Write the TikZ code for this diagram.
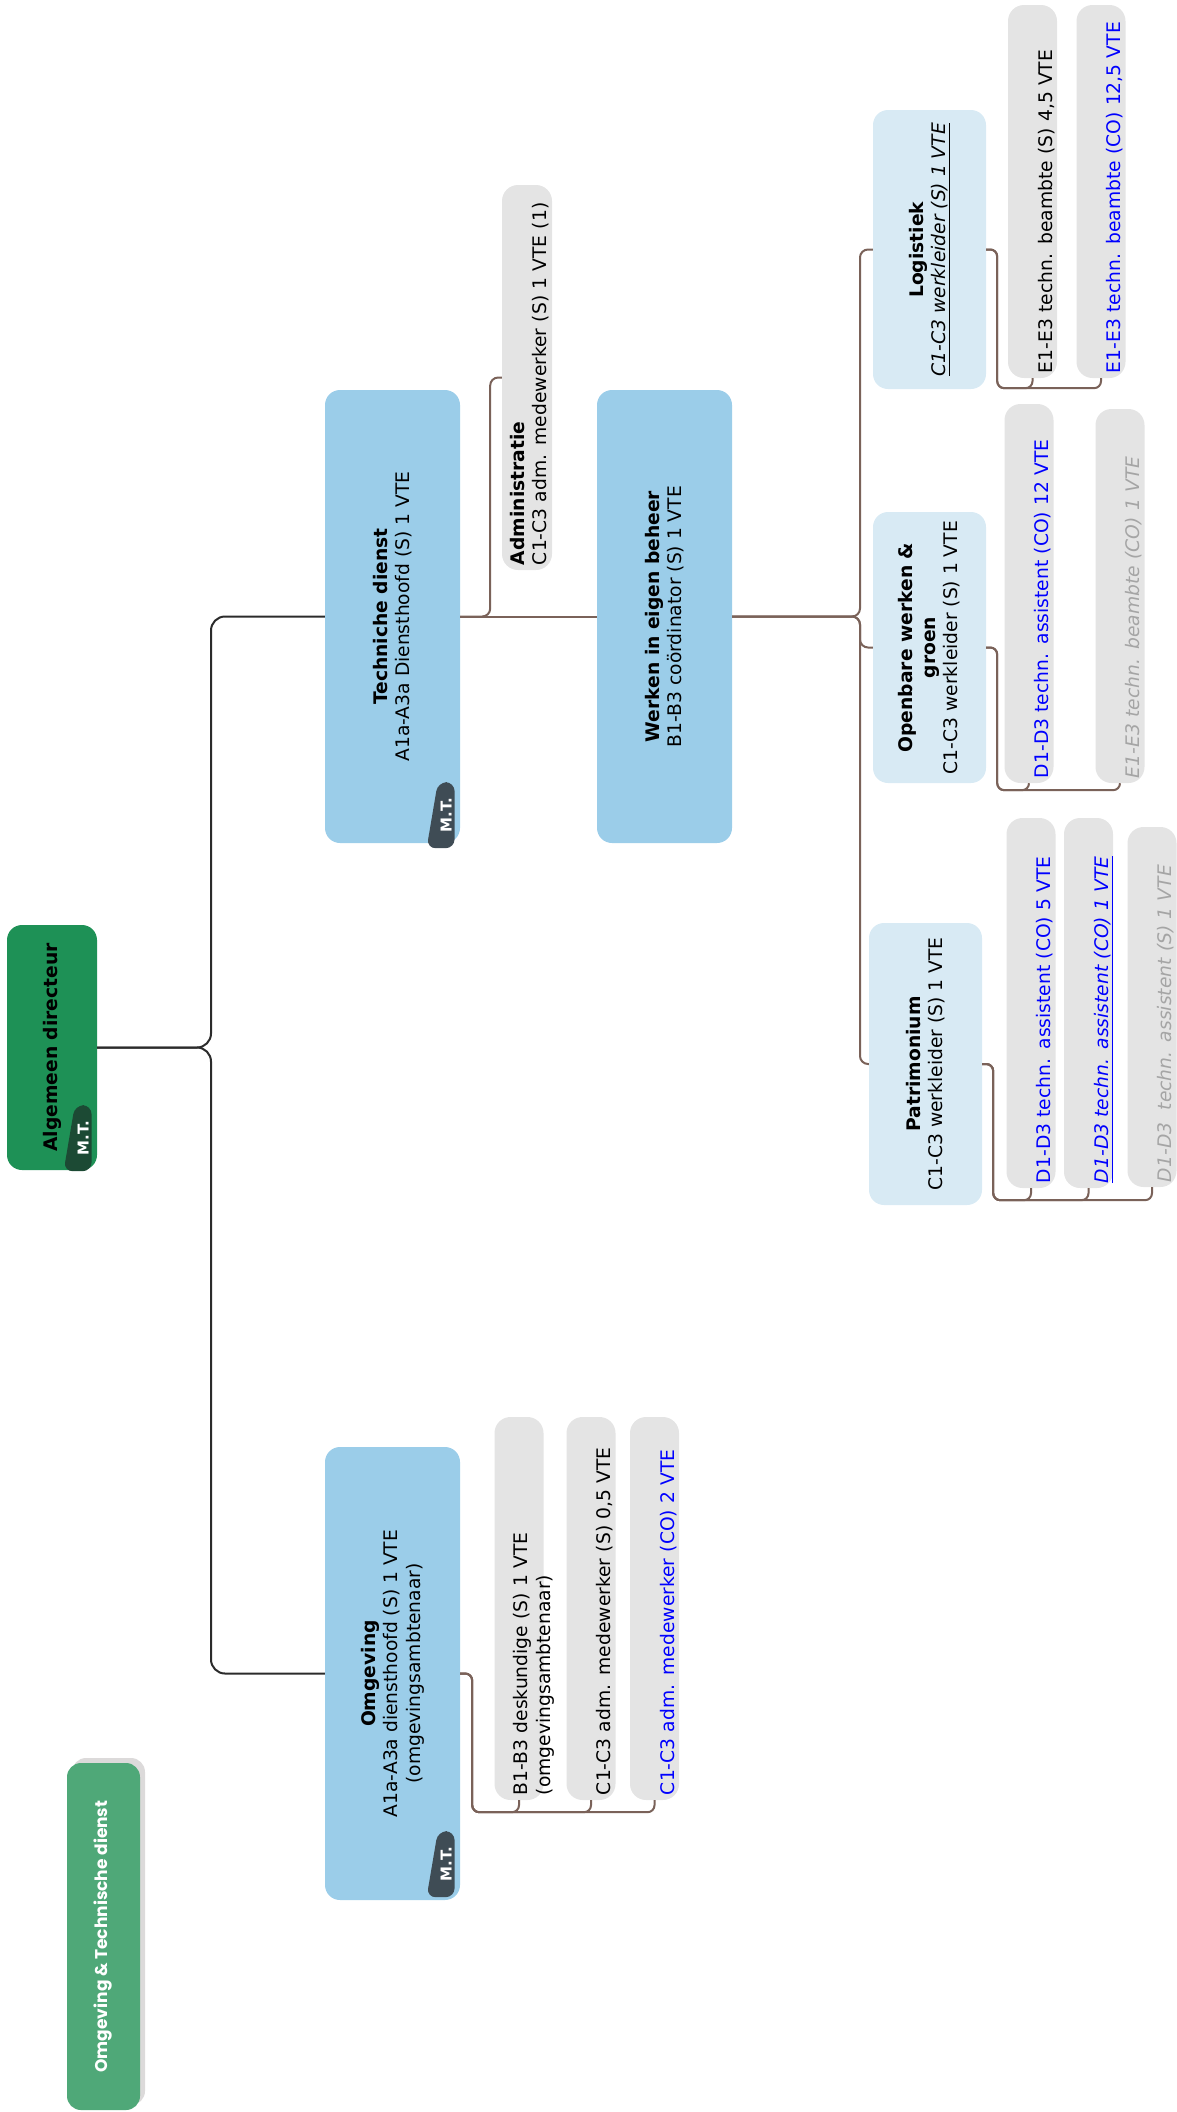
\documentclass[tikz,border=0pt]{standalone}
\usepackage{fontspec}
\setmainfont{DejaVu Sans}
\newfontfamily\titlefont{Poppins}
\usetikzlibrary{shapes.geometric, positioning, calc, shadows}
\definecolor{orggreen}{HTML}{1E9156}
\definecolor{orgdkgreen}{HTML}{1C4A34}
\definecolor{orgtitle}{HTML}{4FA878}
\definecolor{orgshade}{HTML}{DCDADA}
\definecolor{orgblue}{HTML}{9BCDE9}
\definecolor{orglight}{HTML}{D8EAF4}
\definecolor{orggray}{HTML}{E4E4E4}
\definecolor{orgslate}{HTML}{3F4C55}
\definecolor{orgline}{HTML}{2B2B2B}
\definecolor{orgbrown}{HTML}{7A6259}
\definecolor{orgco}{HTML}{0000FF}
\definecolor{orgfade}{HTML}{A5A5A5}

\begin{document}
\begin{tikzpicture}[
        x=1pt, y=-1pt,
        every node/.style={font=\fontsize{18.7pt}{22.5pt}\selectfont},
        director/.style={rectangle, rounded corners=15pt, fill=orggreen, rotate=90, minimum width=245pt, minimum height=90pt, align=center, inner sep=0pt},
        dienst/.style={rectangle, rounded corners=15pt, fill=orgblue, rotate=90, minimum width=453pt, minimum height=135pt, align=center, inner sep=0pt},
        team/.style={rectangle, rounded corners=15pt, fill=orglight, rotate=90, minimum height=113pt, align=center, inner sep=0pt},
        staff/.style={rectangle, rounded corners=16pt, fill=orggray, rotate=90, minimum height=49pt, inner xsep=5pt, inner ysep=0pt, text height=44pt, text depth=5pt, align=left, text width=#1},
        badge/.style={trapezium, trapezium left angle=78, trapezium right angle=90, trapezium stretches=true, rounded corners=9pt, minimum width=28pt, minimum height=66pt, inner sep=0pt, text=white, font=\fontsize{15pt}{15pt}\selectfont\bfseries},
        heading/.style={rectangle, rounded corners=14pt, fill=orgtitle, text=white, rotate=90, minimum width=347pt, minimum height=73pt, font=\fontsize{17pt}{20pt}\selectfont\titlefont\bfseries, drop shadow={shadow xshift=5pt, shadow yshift=5pt, fill=orgshade, opacity=1}},
        topline/.style={draw=orgline, line width=2pt, rounded corners=14pt},
        subline/.style={draw=orgbrown, line width=2pt, rounded corners=8pt},
        leafline/.style={draw=orgbrown, line width=2pt, rounded corners=7pt}
    ]
    \useasboundingbox (0,0) rectangle (1176,2112);

    % top of the chart
    \node[heading] (otd) at (103.5,1936.5) {Omgeving \& Technische dienst};
    \node[director] (ad) at (52,1047.5) {\textbf{Algemeen directeur}};
    \node[badge, fill=orgdkgreen] (admt) at ($(ad.south west)+(-14,-32)$) {\rotatebox{90}{M.T.}};

    % diensten
    \node[dienst] (td) at (392.5,616.5) {\textbf{Techniche dienst}\\A1a-A3a Diensthoofd (S) 1 VTE};
    \node[badge, fill=orgslate] (tdmt) at ($(td.south west)+(-14,-28)$) {\rotatebox{90}{M.T.}};
    \node[dienst] (om) at (392.5,1673.5) {\textbf{Omgeving}\\A1a-A3a diensthoofd (S) 1 VTE\\(omgevingsambtenaar)};
    \node[badge, fill=orgslate] (ommt) at ($(om.south west)+(-14,-36)$) {\rotatebox{90}{M.T.}};
    \node[dienst] (wk) at (664.5,616.5) {\textbf{Werken in eigen beheer}\\B1-B3 coördinator (S) 1 VTE};
    \node[staff=375pt, text height=22pt, text depth=28pt] (adm) at (527,377.5) {\textbf{Administratie}\\C1-C3 adm. medewerker (S) 1 VTE (1)};

    % ploegen
    \node[team, minimum width=279pt] (log) at (929.5,249.5) {\textbf{Logistiek}\\\underline{\textit{C1-C3 werkleider (S) 1 VTE}}};
    \node[team, minimum width=271pt] (ob) at (929.5,647.5) {\textbf{Openbare werken \&}\\\textbf{groen}\\C1-C3 werkleider (S) 1 VTE};
    \node[team, minimum width=282pt] (pat) at (925.5,1064) {\textbf{Patrimonium}\\C1-C3 werkleider (S) 1 VTE};

    % medewerkers
    \node[staff=363pt] (lg1) at (1032.5,191.5) {E1-E3 techn. beambte (S) 4,5 VTE};
    \node[staff=363pt, text=orgco] (lg2) at (1101,191.5) {E1-E3 techn. beambte (CO) 12,5 VTE};
    \node[staff=369pt, text=orgco] (ob1) at (1029,593.5) {D1-D3 techn. assistent (CO) 12 VTE};
    \node[staff=364pt, text=orgfade] (ob2) at (1120,596) {\textit{E1-E3 techn. beambte (CO) 1 VTE}};
    \node[staff=360pt, text=orgco] (pt1) at (1031,1003) {D1-D3 techn. assistent (CO) 5 VTE};
    \node[staff=360pt, text=orgco] (pt2) at (1088.5,1003) {\underline{\textit{D1-D3 techn. assistent (CO) 1 VTE}}};
    \node[staff=350pt, text=orgfade] (pt3) at (1152,1007) {\textit{D1-D3\ \ techn. assistent (S) 1 VTE}};
    \node[staff=373pt, text height=33pt, text depth=16pt] (om1) at (519,1608.5) {B1-B3 deskundige (S) 1 VTE\\(omgevingsambtenaar)};
    \node[staff=373pt] (om2) at (591,1608.5) {C1-C3 adm. medewerker (S) 0,5 VTE};
    \node[staff=373pt, text=orgco] (om3) at (654.5,1608.5) {C1-C3 adm. medewerker (CO) 2 VTE};

    % verbindingen
    \coordinate (adbus) at (211,1047.5);
    \draw[topline] (ad.south) -- (adbus) |- (td.north);
    \draw[topline] (ad.south) -- (adbus) |- (om.north);
    \draw[subline] (td.south) -- (wk.north);
    \draw[subline] (td.south) -- ++(30,0) |- (adm.north);
    \coordinate (wkbus) at (860,616.5);
    \draw[subline] (wk.south) -- (wkbus) |- (log.north);
    \draw[subline] (wk.south) -- (wkbus) |- (ob.north);
    \draw[subline] (wk.south) -- (wkbus) |- (pat.north);
    \draw[leafline] (log.south) -- ++(11,0) |- ($(lg1.west)+(0,10)$) -- (lg1.west);
    \draw[leafline] (log.south) -- ++(11,0) |- ($(lg2.west)+(0,10)$) -- (lg2.west);
    \draw[leafline] (ob.south) -- ++(11,0) |- ($(ob1.west)+(0,7)$) -- (ob1.west);
    \draw[leafline] (ob.south) -- ++(11,0) |- ($(ob2.west)+(0,7)$) -- (ob2.west);
    \draw[leafline] (pat.south) -- ++(11,0) |- ($(pt1.west)+(0,12)$) -- (pt1.west);
    \draw[leafline] (pat.south) -- ++(11,0) |- ($(pt2.west)+(0,12)$) -- (pt2.west);
    \draw[leafline] (pat.south) -- ++(11,0) |- ($(pt3.west)+(0,13)$) -- (pt3.west);
    \draw[leafline] (om.south) -- ++(12,0) |- ($(om1.west)+(0,12)$) -- (om1.west);
    \draw[leafline] (om.south) -- ++(12,0) |- ($(om2.west)+(0,12)$) -- (om2.west);
    \draw[leafline] (om.south) -- ++(12,0) |- ($(om3.west)+(0,12)$) -- (om3.west);
\end{tikzpicture}
\end{document}
